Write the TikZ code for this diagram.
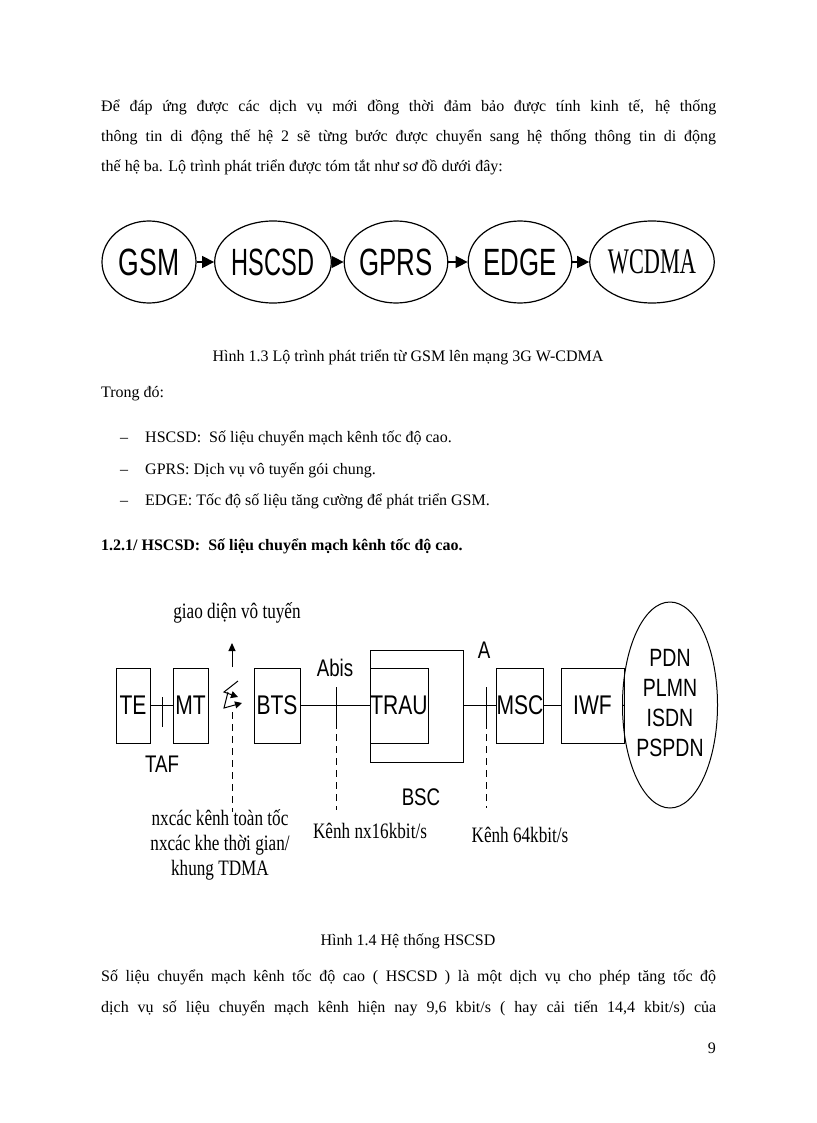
\documentclass[tikz,border=0pt]{standalone}
\usepackage{fontspec}
\usepackage{graphicx}
\setmainfont{Liberation Serif}
\setsansfont{Liberation Sans}
\newcommand\sxn[1]{\scalebox{0.78}[1]{#1}}
\usetikzlibrary{arrows.meta,shapes.geometric}
\begin{document}
\begin{tikzpicture}[x=1pt,y=-1pt,
  body/.style={anchor=base west,inner sep=0,font=\fontsize{16}{19}\selectfont},
  captext/.style={anchor=base,inner sep=0,font=\fontsize{16}{19}\selectfont},
  ev/.style={ellipse,draw,line width=1.2pt,minimum height=82pt,font=\sffamily\fontsize{38}{38}\selectfont,inner sep=0},
  arr/.style={line width=1.5pt,-{Triangle[length=12pt,width=12pt]}},
  bx/.style={draw,line width=1pt,font=\sffamily\fontsize{27}{27}\selectfont,inner sep=0},
  lb/.style={font=\sffamily\fontsize{24}{24}\selectfont,inner sep=0},
  vl/.style={font=\fontsize{22}{25}\selectfont,inner sep=0},
  ln/.style={line width=1pt},
  dsh/.style={line width=1pt,dash pattern=on 7pt off 5pt}]
\useasboundingbox (0,0) rectangle (816,1123);
% text
\node[body] (t1) at (101,112) {\makebox[615pt][s]{Để đáp ứng được các dịch vụ mới đồng thời đảm bảo được tính kinh tế, hệ thống}};
\node[body] (t2) at (101,142) {\makebox[615pt][s]{thông tin di động thế hệ 2 sẽ từng bước được chuyển sang hệ thống thông tin di động}};
\node[body] (t3) at (101,172) {thế hệ ba. Lộ trình phát triển được tóm tắt như sơ đồ dưới đây:};
\node[captext] (c1) at (408,361) {Hình 1.3 Lộ trình phát triển từ GSM lên mạng 3G W-CDMA};
\node[body] (t4) at (101,397) {Trong đó:};
\node[body] (d1) at (120,442) {–};
\node[body] (l1) at (145,442) {HSCSD:\ \ Số liệu chuyển mạch kênh tốc độ cao.};
\node[body] (d2) at (120,474) {–};
\node[body] (l2) at (145,474) {GPRS: Dịch vụ vô tuyến gói chung.};
\node[body] (d3) at (120,505) {–};
\node[body] (l3) at (145,505) {EDGE: Tốc độ số liệu tăng cường để phát triển GSM.};
\node[body,font=\bfseries\fontsize{16}{19}\selectfont] (h1) at (101,550) {1.2.1/ HSCSD:\ \ Số liệu chuyển mạch kênh tốc độ cao.};
\node[captext] (c2) at (408,945) {Hình 1.4 Hệ thống HSCSD};
\node[body] (t5) at (101,981) {\makebox[615pt][s]{Số liệu chuyển mạch kênh tốc độ cao ( HSCSD ) là một dịch vụ cho phép tăng tốc độ}};
\node[body] (t6) at (101,1012) {\makebox[615pt][s]{dịch vụ số liệu chuyển mạch kênh hiện nay 9,6 kbit/s ( hay cải tiến 14,4 kbit/s) của}};
\node[body,anchor=base east] (pg) at (716,1053) {9};
% roadmap
\node[ev,minimum width=94pt] (gsm) at (149,262) {\scalebox{0.7}[1]{GSM}};
\node[ev,minimum width=91pt] (hs) at (273,262) {\scalebox{0.62}[1]{HSCSD}};
\node[ev,minimum width=91pt] (gp) at (396,262) {\scalebox{0.68}[1]{GPRS}};
\node[ev,minimum width=93pt] (ed) at (520,262) {\scalebox{0.68}[1]{EDGE}};
\node[ev,minimum width=111pt,font=\fontsize{36}{36}\selectfont] (wc) at (652,262) {\scalebox{0.62}[1]{WCDMA}};
\draw[arr] (gsm) -- (hs);
\draw[arr] (hs) -- (gp);
\draw[arr] (gp) -- (ed);
\draw[arr] (ed) -- (wc);
% HSCSD system
\node[bx,minimum width=34pt,minimum height=75pt] (te) at (133,705.5) {\sxn{TE}};
\node[bx,minimum width=35pt,minimum height=75pt] (mt) at (190.5,705.5) {\sxn{MT}};
\node[bx,minimum width=46pt,minimum height=75pt] (bts) at (277,705.5) {\sxn{BTS}};
\draw[ln] (370,650) rectangle (463,762);
\node[bx,minimum width=58pt,minimum height=75pt] (trau) at (399,705.5) {\sxn{TRAU}};
\node[bx,minimum width=46pt,minimum height=75pt] (msc) at (520,705.5) {\sxn{MSC}};
\node[bx,minimum width=63pt,minimum height=75pt] (iwf) at (592.5,705.5) {\sxn{IWF}};
\node[ellipse,draw,line width=1pt,minimum width=68pt,minimum height=206pt,inner sep=0,font=\sffamily\fontsize{25}{30}\selectfont] (net) at (670,705) {\scalebox{0.78}[1]{\begin{tabular}{@{}c@{}}PDN\\PLMN\\ISDN\\PSPDN\end{tabular}}};
\coordinate (bscr) at (463,705.5);
\draw[ln] (te) -- (mt);
\draw[ln] (bts) -- (trau);
\draw[ln] (bscr) -- (msc);
\draw[ln] (msc) -- (iwf);
\draw[ln] (iwf) -- (net);
\draw[ln] (162,697) -- (162,727);
\draw[ln] (336,687) -- (336,722);
\draw[ln] (486,687) -- (486,722);
\draw[dsh] (336,722) -- (336,810);
\draw[dsh] (486,722) -- (486,808);
\draw[dsh] (232,712) -- (232,812);
\draw[line width=1pt,-{Triangle[length=8pt,width=7pt]}] (232,667) -- (232,643);
% lightning symbol
\draw[line width=1pt,-{Triangle[length=7pt,width=7pt]}] (238,681) -- (224,692) -- (238,697);
\draw[line width=1pt,-{Triangle[length=7pt,width=7pt]}] (228,692) -- (224,708) -- (242,703);
\node[lb] (taf) at (162,764) {\sxn{TAF}};
\node[lb] (abis) at (335,668) {\sxn{Abis}};
\node[lb] (a) at (484,650) {\sxn{A}};
\node[lb] (bsc) at (421,797) {\sxn{BSC}};
\node[vl] (gd) at (237,613) {\sxn{giao diện vô tuyến}};
\node[vl] (nx) at (220,845) {\sxn{\begin{tabular}{@{}c@{}}nxcác kênh toàn tốc\\nxcác khe thời gian/\\khung TDMA\end{tabular}}};
\node[vl] (k1) at (370,831) {\sxn{Kênh nx16kbit/s}};
\node[vl] (k2) at (520,835) {\sxn{Kênh 64kbit/s}};
\end{tikzpicture}
\end{document}
